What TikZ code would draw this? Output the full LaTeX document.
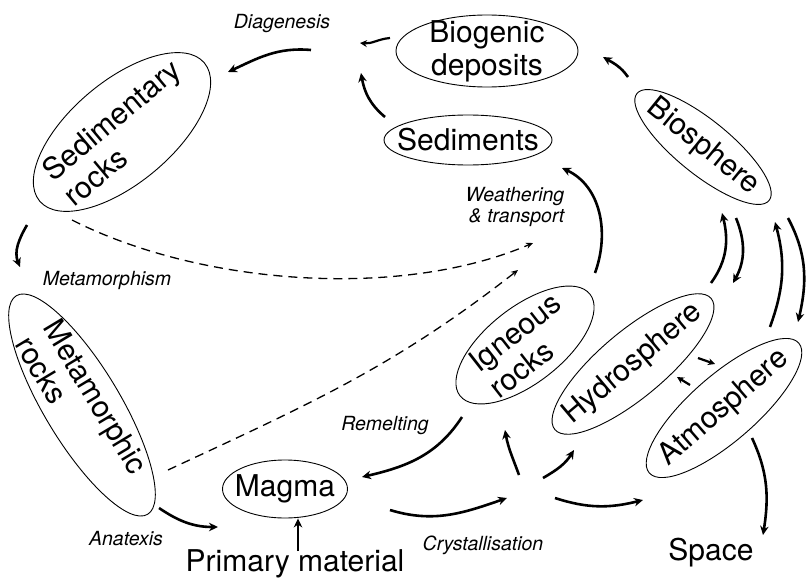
\documentclass[tikz,border=0pt]{standalone}
\usepackage{fontspec}
\setmainfont{TeX Gyre Heros}
\usetikzlibrary{shapes.geometric,arrows.meta}
\begin{document}
\begin{tikzpicture}[x=1pt,y=-1pt,
  ell/.style={ellipse,draw,line width=0.9pt,inner xsep=-40pt,inner ysep=-20pt,
    font=\fontsize{30}{33}\selectfont},
  big/.style={font=\fontsize{30}{33}\selectfont,inner sep=0pt},
  lab/.style={font=\fontsize{19.5}{21}\selectfont\itshape,inner sep=0pt},
  arr/.style={line width=2.6pt,-{Stealth[length=9pt,width=8.5pt]}},
  sarr/.style={line width=2.2pt,-{Stealth[length=7pt,width=7pt]}},
  darr/.style={line width=1.3pt,dash pattern=on 9pt off 6pt,-{Stealth[length=7pt,width=6pt]}}]
\useasboundingbox (0,0) rectangle (806,578);

% ellipses
\node[ell,rotate=40,minimum width=215pt,minimum height=102pt,align=left] (sed) at (122,132) {Sedimentary\\rocks};
\node[ell,rotate=-59,minimum width=255pt,minimum height=76pt,align=left] (meta) at (82,405) {Metamorphic\\rocks};
\node[ell,minimum width=182pt,minimum height=72pt,align=center] (bio) at (487,51) {Biogenic\\deposits};
\node[ell,minimum width=168pt,minimum height=50pt] (sedi) at (468,140) {Sediments};
\node[ell,minimum width=125pt,minimum height=58pt] (mag) at (285,489) {Magma};
\node[ell,rotate=38,minimum width=165pt,minimum height=76pt,align=left] (ign) at (525,345) {Igneous\\rocks};
\node[ell,rotate=40,minimum width=204pt,minimum height=66pt] (hyd) at (633,364) {Hydrosphere};
\node[ell,rotate=41,minimum width=198pt,minimum height=66pt] (atm) at (724,408) {Atmosphere};
\node[ell,rotate=-39,minimum width=170pt,minimum height=54pt] (bsp) at (703,147) {Biosphere};

% text labels
\node[lab] (ldia) at (282,24) {Diagenesis};
\node[lab] (lmet) at (107,280) {Metamorphism};
\node[lab,align=right] (lwea) at (515,207) {Weathering\\\& transport};
\node[lab] (lrem) at (385,426) {Remelting};
\node[lab] (lana) at (126,539) {Anatexis};
\node[lab] (lcry) at (483,545) {Crystallisation};
\node[big] (prim) at (295,564) {Primary material};
\node[big] (space) at (711,553) {Space};

% coordinates
\coordinate (a1s) at (311,50);  \coordinate (a1e) at (228,72);
\coordinate (a2s) at (390,38);  \coordinate (a2e) at (360,43);
\coordinate (a3s) at (385,117); \coordinate (a3e) at (361,73);
\coordinate (a4s) at (628,77);  \coordinate (a4e) at (603,57);
\coordinate (a5s) at (595,273); \coordinate (a5e) at (562,168);
\coordinate (d1s) at (72,220);  \coordinate (d1e) at (533,243);
\coordinate (d2s) at (168,470); \coordinate (d2e) at (518,270);
\coordinate (a8s) at (27,225);  \coordinate (a8e) at (20,267);
\coordinate (a9s) at (159,508); \coordinate (a9e) at (218,527);
\coordinate (a10s) at (298,551);
\coordinate (a11s) at (462,417); \coordinate (a11e) at (362,477);
\coordinate (a12s) at (390,510); \coordinate (a12e) at (507,498);
\coordinate (a13s) at (519,475); \coordinate (a13e) at (505,430);
\coordinate (a14s) at (543,478); \coordinate (a14e) at (574,450);
\coordinate (a15s) at (555,498); \coordinate (a15e) at (643,500);
\coordinate (a16s) at (752,438); \coordinate (a16e) at (763,535);
\coordinate (a17s) at (698,358); \coordinate (a17e) at (715,364);
\coordinate (a18s) at (690,385); \coordinate (a18e) at (677,377);
\coordinate (a19s) at (711,283); \coordinate (a19e) at (722,213);
\coordinate (a20s) at (736,218); \coordinate (a20e) at (733,283);
\coordinate (a21s) at (770,327); \coordinate (a21e) at (775,222);
\coordinate (a22s) at (788,218); \coordinate (a22e) at (798,322);

% arrows
\draw[arr] (a1s) to[out=175,in=25] (a1e);
\draw[sarr] (a2s) to[out=185,in=-5] (a2e);
\draw[arr] (a3s) to[out=140,in=-80] (a3e);
\draw[arr] (a4s) to[out=125,in=-30] (a4e);
\draw[arr] (a5s) to[out=70,in=-25] (a5e);
\draw[darr] (d1s) .. controls (200,285) and (400,300) .. (d1e);
\draw[darr] (d2s) to[out=25,in=218] (d2e);
\draw[arr] (a8s) to[out=240,in=112] (a8e);
\draw[arr] (a9s) to[out=-34,in=180] (a9e);
\draw[arr] (a10s) -- (a10s |- mag.south);
\draw[arr] (a11s) to[out=237,in=13] (a11e);
\draw[arr] (a12s) to[out=-17,in=199] (a12e);
\draw[arr] (a13s) to[out=110,in=-80] (a13e);
\draw[arr] (a14s) to[out=30,in=238] (a14e);
\draw[arr] (a15s) to[out=-18,in=194] (a15e);
\draw[arr] (a16s) to[out=-65,in=81] (a16e);
\draw[sarr] (a17s) -- (a17e);
\draw[sarr] (a18s) -- (a18e);
\draw[arr] (a19s) to[out=54,in=-76] (a19e);
\draw[arr] (a20s) to[out=-68,in=61] (a20e);
\draw[arr] (a21s) to[out=70,in=-75] (a21e);
\draw[arr] (a22s) to[out=-62,in=77] (a22e);
\end{tikzpicture}
\end{document}
